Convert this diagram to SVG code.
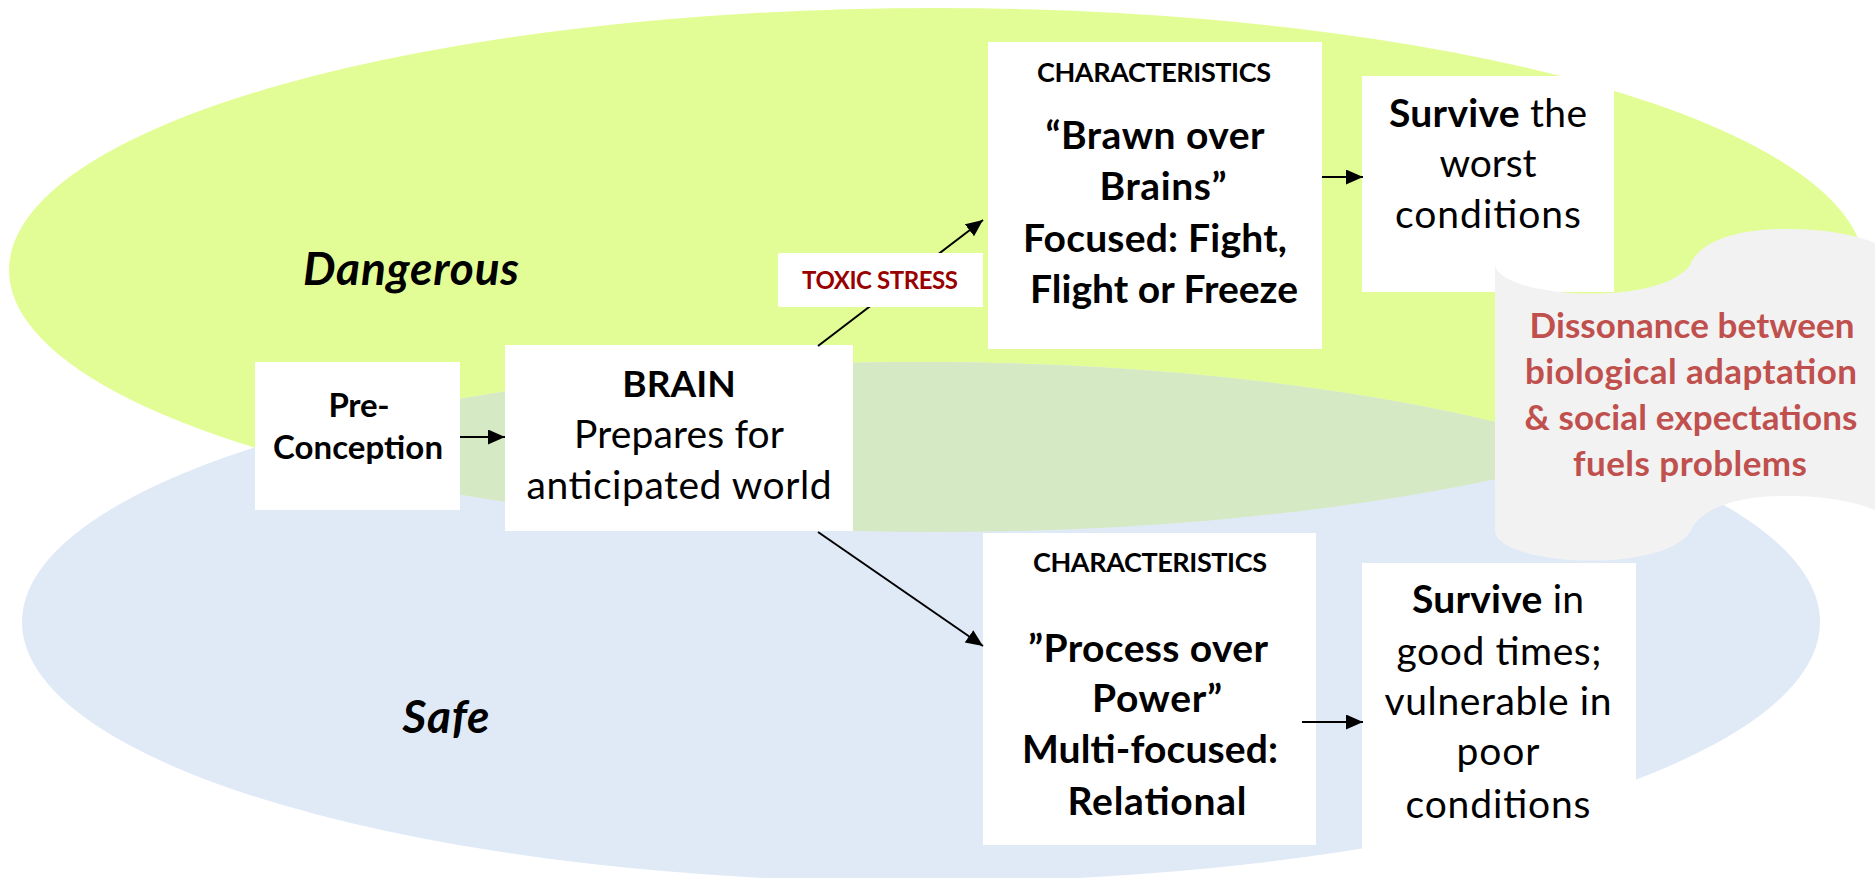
<svg xmlns="http://www.w3.org/2000/svg" width="1875" height="878" viewBox="0 0 1875 878">
<style>
  .box { fill: #ffffff; }
  .t { font-family: Lato, "Liberation Sans", sans-serif; fill: #000000; text-anchor: middle; }
  .b { font-weight: bold; }
  .body { font-size: 39px; }
  .hdr { font-size: 27px; font-weight: bold; }
  .zone { font-size: 46px; font-weight: bold; font-style: italic; }
  .red { font-size: 35px; font-weight: bold; fill: #c0504d; }
  .conn { stroke: #000000; stroke-width: 2; fill: none; marker-end: url(#arr); }
</style>
<defs>
  <marker id="arr" markerUnits="userSpaceOnUse" markerWidth="18" markerHeight="16" refX="17" refY="7.5" orient="auto">
    <path d="M0,0 L17,7.5 L0,15 Z" fill="#000000"/>
  </marker>
  <clipPath id="blueClip">
    <ellipse cx="921" cy="622" rx="899" ry="260"/>
  </clipPath>
</defs>

<g id="zones">
  <ellipse id="zone-dangerous" cx="937" cy="270" rx="928" ry="262" fill="#e3fd96"/>
  <ellipse id="zone-safe" cx="921" cy="622" rx="899" ry="260" fill="#e0eaf7"/>
  <ellipse cx="937" cy="270" rx="928" ry="262" fill="#d5eac4" clip-path="url(#blueClip)"/>
  <text class="t zone" x="411" y="285" textLength="216">Dangerous</text>
  <text class="t zone" x="446" y="733" textLength="87">Safe</text>
</g>

<g id="preconception">
  <rect class="box" x="255" y="362" width="205" height="148"/>
  <text class="t b" font-size="33" x="359" y="417" textLength="61">Pre-</text>
  <text class="t b" font-size="33" x="358" y="459" textLength="170">Conception</text>
</g>

<g id="brain">
  <rect class="box" x="505" y="345" width="348" height="186"/>
  <text class="t b" font-size="37" x="679" y="397">BRAIN</text>
  <text class="t body" x="679" y="448" textLength="210">Prepares for</text>
  <text class="t body" x="679" y="499" textLength="305">anticipated world</text>
</g>

<g id="characteristics-dangerous">
  <rect class="box" x="988" y="42" width="334" height="307"/>
  <text class="t hdr" x="1154" y="82" textLength="234">CHARACTERISTICS</text>
  <text class="t body b" x="1155" y="149" textLength="219">“Brawn over</text>
  <text class="t body b" x="1163" y="200" textLength="127">Brains”</text>
  <text class="t body b" x="1155" y="252" textLength="264">Focused: Fight,</text>
  <text class="t body b" x="1164" y="303" textLength="268">Flight or Freeze</text>
</g>

<g id="survive-worst">
  <rect class="box" x="1362" y="76" width="252" height="216"/>
  <text class="t body" x="1488" y="127" textLength="198"><tspan class="b">Survive</tspan> the</text>
  <text class="t body" x="1488" y="177" textLength="97">worst</text>
  <text class="t body" x="1488" y="228" textLength="186">conditions</text>
</g>

<g id="characteristics-safe">
  <rect class="box" x="983" y="533" width="333" height="312"/>
  <text class="t hdr" x="1150" y="572" textLength="234">CHARACTERISTICS</text>
  <text class="t body b" x="1148" y="662" textLength="240">”Process over</text>
  <text class="t body b" x="1157" y="712" textLength="130">Power”</text>
  <text class="t body b" x="1150" y="763" textLength="256">Multi-focused:</text>
  <text class="t body b" x="1157" y="815" textLength="179">Relational</text>
</g>

<g id="survive-good">
  <rect class="box" x="1362" y="563" width="274" height="297"/>
  <text class="t body" x="1498" y="613" textLength="172"><tspan class="b">Survive</tspan> in</text>
  <text class="t body" x="1499" y="665" textLength="205">good times;</text>
  <text class="t body" x="1498" y="715" textLength="227">vulnerable in</text>
  <text class="t body" x="1498" y="765" textLength="83">poor</text>
  <text class="t body" x="1498" y="818" textLength="185">conditions</text>
</g>

<g id="dissonance">
  <path d="M1495,265 C1500,298 1660,308 1690,265 C1700,240 1740,229 1785,229 C1830,229 1860,236 1880,245 L1890,245 L1890,512 L1880,512 C1860,503 1830,496 1785,496 C1740,496 1700,507 1690,532 C1660,575 1500,565 1495,532 Z" fill="#f2f2f2"/>
  <text class="t red" x="1692" y="338" textLength="325">Dissonance between</text>
  <text class="t red" x="1691" y="384" textLength="332">biological adaptation</text>
  <text class="t red" x="1691" y="430" textLength="333">&amp; social expectations</text>
  <text class="t red" x="1690" y="476" textLength="234">fuels problems</text>
</g>

<g id="connectors">
  <line class="conn" x1="460" y1="437" x2="505" y2="437"/>
  <line class="conn" x1="818" y1="346" x2="983" y2="220"/>
  <line class="conn" x1="818" y1="532" x2="983" y2="646"/>
  <line class="conn" x1="1322" y1="177" x2="1363" y2="177"/>
  <line class="conn" x1="1302" y1="722" x2="1363" y2="722"/>
</g>

<g id="toxic-stress">
  <rect class="box" x="778" y="253" width="205" height="54"/>
  <text class="t b" font-size="24" x="880" y="289" textLength="156" style="fill:#990000">TOXIC STRESS</text>
</g>
</svg>
